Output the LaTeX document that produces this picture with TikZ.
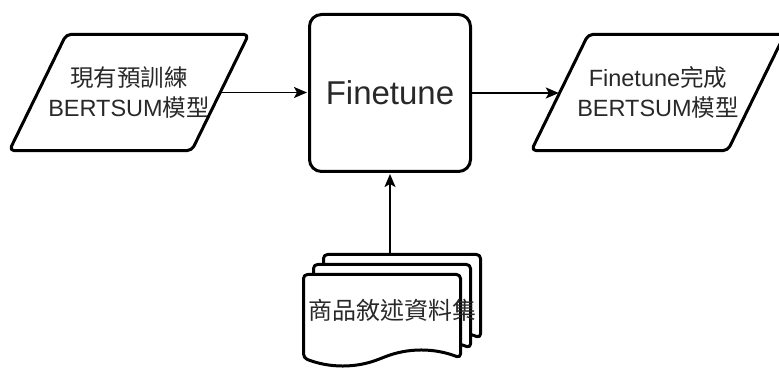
\documentclass[tikz,border=0pt]{standalone}
\usepackage{fontspec}
\setmainfont{Liberation Sans}
\newfontfamily\cjk{Noto Sans CJK TC}
\usetikzlibrary{arrows.meta, positioning, calc}
\definecolor{ink}{RGB}{40,40,40}

\begin{document}
\begin{tikzpicture}[x=1pt, y=-1pt,
    box/.style={draw=black, line width=3pt, line join=round},
    io/.style={inner sep=0pt, minimum height=116pt, align=center, text=ink, font=\fontsize{23.5}{30}\selectfont},
    arr/.style={-{Stealth[length=13pt, width=11pt, inset=3pt]}, line width=1.8pt, shorten >=1pt}]
  \useasboundingbox (0,0) rectangle (779,371);
  % input and output models
  \node[io, minimum width=182pt] (pretrained) at (129,92.5) {{\cjk 現有預訓練}\\BERTSUM{\cjk 模型}};
  \node[io, minimum width=196pt] (finetuned) at (658,92.5) {Finetune{\cjk 完成}\\BERTSUM{\cjk 模型}};
  \foreach \n in {pretrained, finetuned}
    \draw[box, rounded corners=5pt] ($(\n.south west)+(-28.5,0)$) -- ($(\n.north west)+(28.5,0)$)
      -- ($(\n.north east)+(28.5,0)$) -- ($(\n.south east)+(-28.5,0)$) -- cycle;

  \node[box, rounded corners=12pt, minimum width=161pt, minimum height=157pt, text=ink,
    font=\fontsize{33}{40}\selectfont] (fine) at (390,93) {Finetune};

  % stacked documents
  \coordinate (stack) at (302,253);
  \foreach \k in {2,1,0}
    \draw[box, fill=white, rounded corners=4pt, shift={($(stack)+(10*\k+1.5,21.5-10*\k)$)}]
      (0,0) -- (157,0) -- (157,83.5) .. controls (130.8,73.3) and (104.7,73.3) .. (78.5,83.5)
      .. controls (52.3,93.7) and (26.2,93.7) .. (0,83.5) -- cycle;
  \node[text=ink, font=\fontsize{24}{30}\selectfont\cjk, minimum width=180pt, minimum height=115pt,
    inner sep=0pt] (corpus) at ($(stack)+(90,57.5)$) {商品敘述資料集};

  \draw[arr] (pretrained.east) -- (pretrained.east -| fine.west);
  \draw[arr] (fine.east) -- (fine.east -| finetuned.west);
  \draw[arr] (fine |- corpus.north) -- (fine.south);
\end{tikzpicture}
\end{document}
